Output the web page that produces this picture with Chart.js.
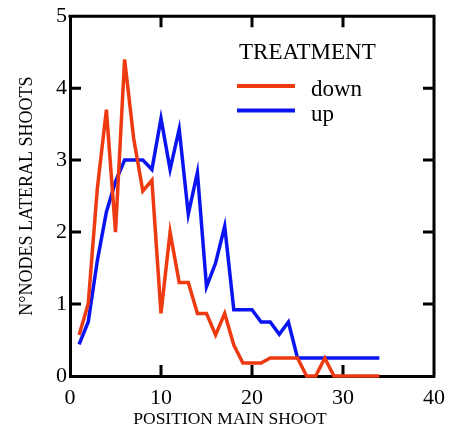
<!DOCTYPE html>
<html><head><meta charset="utf-8">
<script src="https://cdn.jsdelivr.net/npm/chart.js@4.4.1/dist/chart.umd.min.js"></script>
<style>html,body{margin:0;padding:0;background:#fff;}#wrap{width:465px;height:434px;}</style>
</head><body><div id="wrap"><canvas id="c" width="465" height="434"></canvas></div>
<script>
const positions = [1,2,3,4,5,6,7,8,9,10,11,12,13,14,15,16,17,18,19,20,21,22,23,24,25,26,27,28,29,30,31,32,33,34];
const down = [0.57,1.0,2.6,3.7,2.0,4.4,3.3,2.57,2.72,0.87,2.0,1.3,1.3,0.87,0.87,0.57,0.87,0.43,0.18,0.18,0.18,0.25,0.25,0.25,0.25,0,0,0.25,0,0,0,0,0,0];
const up = [0.44,0.75,1.6,2.28,2.7,3.0,3.0,3.0,2.87,3.58,2.87,3.43,2.25,2.83,1.24,1.57,2.08,0.92,0.92,0.92,0.75,0.75,0.58,0.75,0.25,0.25,0.25,0.25,0.25,0.25,0.25,0.25,0.25,0.25];
const seriesNames = ['down','up'];
const legendTitle = 'TREATMENT';
const xTicks = [0,10,20,30,40];
const yTicks = [0,1,2,3,4,5];
const xTitle = 'POSITION MAIN SHOOT';
const yTitle = 'N°NODES LATERAL SHOOTS';

const SERIF = '"Liberation Serif", "Times New Roman", serif';
const RED = '#EE3A10';
const BLUE = '#0A14F0';

const toPts = ys => positions.map((x,i)=>({x:x, y:ys[i]}));

const framePlugin = {
  id:'frame',
  beforeDatasetsDraw(chart){
    const {ctx, chartArea:a, scales:{x,y}} = chart;
    ctx.save();
    ctx.strokeStyle='#000'; ctx.lineWidth=3; ctx.lineCap='butt';
    ctx.beginPath();
    ctx.moveTo(a.left-1.5, a.top); ctx.lineTo(a.right+1.5, a.top);
    ctx.moveTo(a.right, a.top); ctx.lineTo(a.right, a.bottom+1.5);
    const L = 11;
    xTicks.forEach(v=>{ if(v===xTicks[0]||v===xTicks[xTicks.length-1]) return; const px=x.getPixelForValue(v);
      ctx.moveTo(px,a.bottom); ctx.lineTo(px,a.bottom-L);
      ctx.moveTo(px,a.top); ctx.lineTo(px,a.top+L); });
    yTicks.forEach(v=>{ if(v===yTicks[0]||v===yTicks[yTicks.length-1]) return; const py=y.getPixelForValue(v);
      ctx.moveTo(a.left,py); ctx.lineTo(a.left+L,py);
      ctx.moveTo(a.right,py); ctx.lineTo(a.right-L,py); });
    ctx.stroke();
    ctx.restore();
  },
  afterDatasetsDraw(chart){
    const {ctx} = chart;
    ctx.save();
    ctx.fillStyle='#000';
    ctx.textBaseline='alphabetic'; ctx.textAlign='left';
    ctx.font = '23px '+SERIF;
    ctx.fillText(legendTitle, 239, 59);
    chart.data.datasets.forEach((ds,i)=>{
      const yy = 86 + i*24.5;
      ctx.strokeStyle = ds.borderColor; ctx.lineWidth=4;
      ctx.beginPath(); ctx.moveTo(237,yy); ctx.lineTo(295,yy); ctx.stroke();
      ctx.font = '23px '+SERIF;
      ctx.fillText(ds.label, 311, yy+10);
    });
    ctx.font = '17.5px '+SERIF;
    ctx.textAlign='center'; ctx.textBaseline='alphabetic';
    ctx.fillText(xTitle, 230, 424);
    ctx.restore();
  }
};

new Chart(document.getElementById('c'), {
  type:'line',
  data:{ datasets:[
    {label:seriesNames[0], data:toPts(down), borderColor:RED, backgroundColor:RED, borderWidth:3.5, pointRadius:0, tension:0, clip:false, borderJoinStyle:'miter'},
    {label:seriesNames[1], data:toPts(up), borderColor:BLUE, backgroundColor:BLUE, borderWidth:3.5, pointRadius:0, tension:0, clip:false, borderJoinStyle:'miter'}
  ]},
  options:{
    responsive:false, animation:false, devicePixelRatio:1,
    layout:{padding:{top:14,right:31,left:0,bottom:0}},
    plugins:{legend:{display:false}, tooltip:{enabled:false}},
    scales:{
      x:{type:'linear', min:0, max:40,
        afterBuildTicks: s => { s.ticks = xTicks.map(v=>({value:v})); },
        afterFit: s => { s.height = 58; },
        grid:{display:false, drawTicks:false},
        border:{display:true, color:'#000', width:3},
        ticks:{color:'#000', font:{family:SERIF, size:22}, padding:9, maxRotation:0, autoSkip:false}
      },
      y:{type:'linear', min:0, max:5,
        afterBuildTicks: s => { s.ticks = yTicks.map(v=>({value:v})); },
        afterFit: s => { s.width = 70; },
        grid:{display:false, drawTicks:false},
        border:{display:true, color:'#000', width:3},
        ticks:{color:'#000', font:{family:SERIF, size:22}, padding:3, autoSkip:false},
        title:{display:true, text:yTitle, color:'#000', font:{family:SERIF, size:18}, padding:{top:16,bottom:0}}
      }
    }
  },
  plugins:[framePlugin]
});
</script></body></html>
